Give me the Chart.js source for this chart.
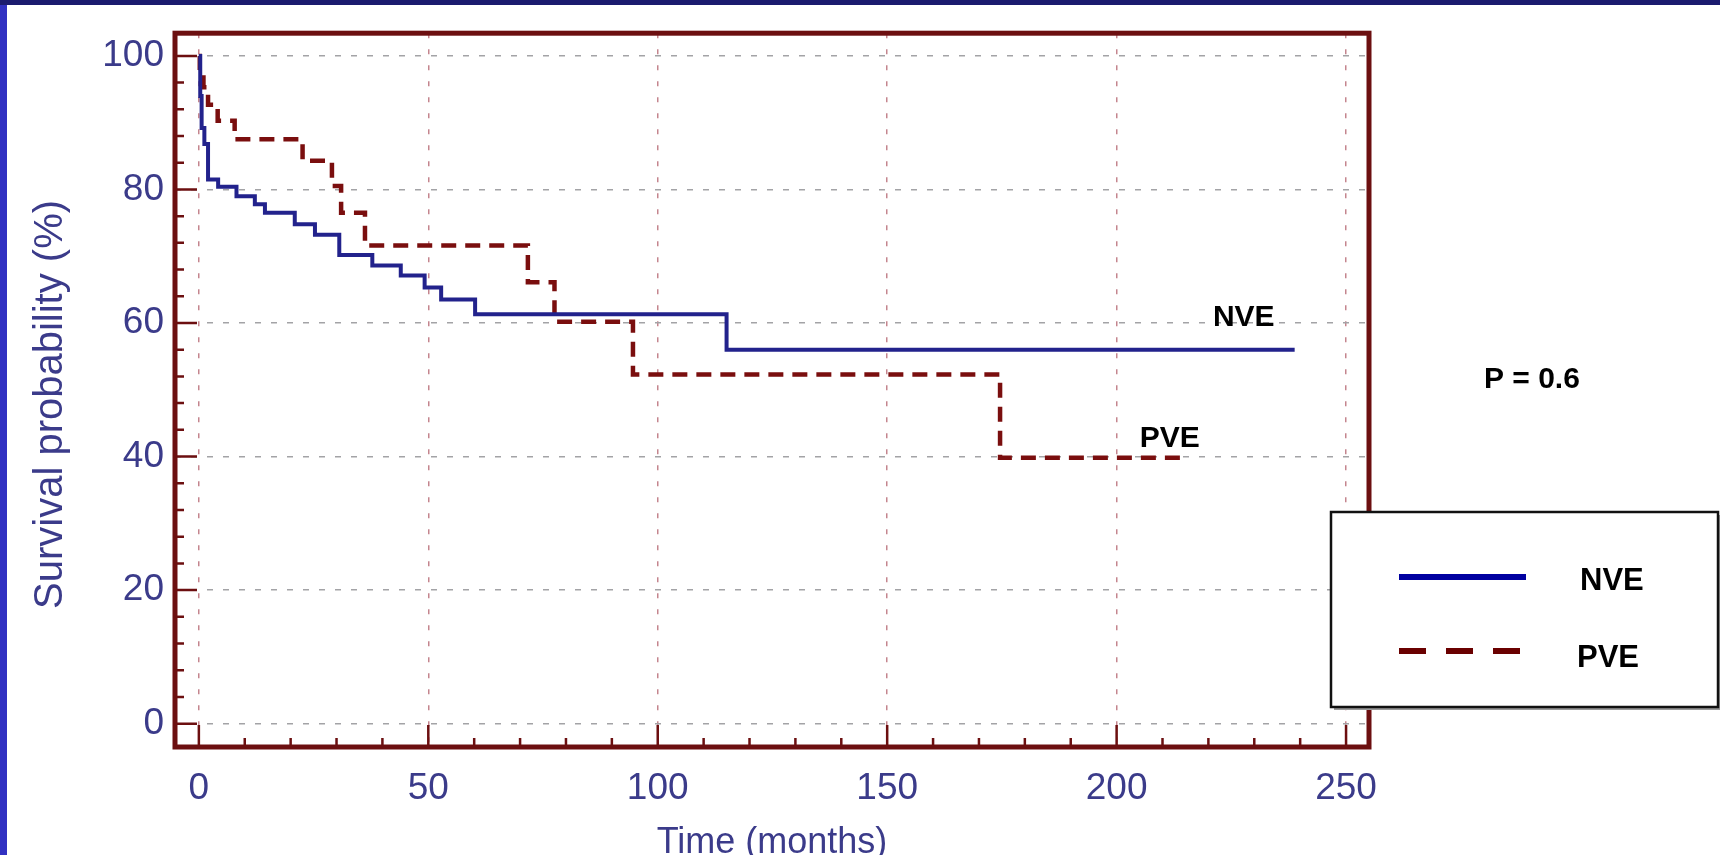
<!DOCTYPE html>
<html>
<head>
<meta charset="utf-8">
<script src="https://cdn.jsdelivr.net/npm/chart.js@4.4.1/dist/chart.umd.min.js"></script>
<style>
  html, body { margin: 0; padding: 0; background: #fff; }
  canvas { display: block; }
</style>
</head>
<body>
<canvas id="kmChart" width="1720" height="855"></canvas>
<script>
// Kaplan-Meier survival (time in months, survival in %)
const nveTimes = [0, 0.3, 0.6, 1.2, 2.0, 4.2, 8.2, 12.2, 14.4, 20.9, 25.3, 30.6, 37.8, 44.0, 49.2, 52.8, 60.2, 115.0, 238.8];
const nveSurv  = [100, 94.0, 89.2, 86.8, 81.5, 80.4, 79.0, 77.8, 76.5, 74.8, 73.2, 70.2, 68.6, 67.1, 65.3, 63.5, 61.3, 56.0, 56.0];
const pveTimes = [0, 0.2, 1.0, 2.0, 4.1, 7.8, 22.6, 29.0, 31.0, 36.2, 71.7, 77.5, 94.6, 174.6, 215.5];
const pveSurv  = [100, 97.5, 95.3, 92.7, 90.3, 87.5, 84.3, 80.5, 76.5, 71.6, 66.1, 60.2, 52.3, 39.8, 39.8];
const xTicks = [0, 50, 100, 150, 200, 250];
const yTicks = [0, 20, 40, 60, 80, 100];
const seriesNames = ['NVE', 'PVE'];
const pText = 'P = 0.6';

const frameColor = '#6c0f10';
const tickColor = '#3b3b8a';
const font = '"Liberation Sans", Arial, sans-serif';

const toPoints = (ts, vs) => ts.map((t, i) => ({ x: t, y: vs[i] }));

const kmDecor = {
  id: 'kmDecor',
  beforeDraw(chart) {
    const c = chart.ctx;
    c.save();
    c.fillStyle = '#ffffff';
    c.fillRect(0, 0, chart.width, chart.height);
    c.fillStyle = '#1b1b6f';
    c.fillRect(0, 0, chart.width, 5);
    c.fillStyle = '#3131c2';
    c.fillRect(0, 5, 7, chart.height - 5);
    c.restore();
  },
  afterDatasetsDraw(chart) {
    const { ctx: c, chartArea: a, scales: { x, y } } = chart;
    c.save();
    // inward ticks
    c.strokeStyle = frameColor;
    c.lineWidth = 2.5;
    c.beginPath();
    for (let v = 0; v <= 250; v += 10) {
      const px = x.getPixelForValue(v);
      const len = v % 50 === 0 ? 22 : 9;
      c.moveTo(px, a.bottom);
      c.lineTo(px, a.bottom - len);
    }
    for (let v = 0; v <= 100; v += 4) {
      const py = y.getPixelForValue(v);
      const len = v % 20 === 0 ? 22 : 9;
      c.moveTo(a.left, py);
      c.lineTo(a.left + len, py);
    }
    c.stroke();
    // frame
    c.lineWidth = 5;
    c.strokeRect(a.left, a.top, a.width, a.height);

    // curve labels and p value
    c.fillStyle = '#000';
    c.font = 'bold 30px ' + font;
    c.textAlign = 'center';
    c.textBaseline = 'middle';
    c.fillText(seriesNames[0], x.getPixelForValue(227.7), y.getPixelForValue(60.8));
    c.fillText(seriesNames[1], x.getPixelForValue(211.6), y.getPixelForValue(42.7));
    c.fillText(pText, x.getPixelForValue(290.5), y.getPixelForValue(51.5));

    // y axis title, set a little below the plot centre as in the picture
    c.fillStyle = tickColor;
    c.font = '40px ' + font;
    c.translate(51, y.getPixelForValue(47.8));
    c.rotate(-Math.PI / 2);
    c.fillText('Survival probability (%)', 0, 0);
    c.restore();
  },
  afterDraw(chart) {
    const c = chart.ctx;
    const ds = chart.data.datasets;
    c.save();
    // legend box
    c.fillStyle = '#9a9a9a';
    c.fillRect(1334, 515, 387, 195);
    c.fillStyle = '#fff';
    c.fillRect(1331, 512, 387, 195);
    c.strokeStyle = '#111';
    c.lineWidth = 2.5;
    c.strokeRect(1331, 512, 387, 195);

    c.lineWidth = 6;
    c.strokeStyle = '#0000a0';
    c.beginPath();
    c.moveTo(1399, 577);
    c.lineTo(1526, 577);
    c.stroke();

    c.strokeStyle = '#6a0000';
    c.setLineDash([27, 20]);
    c.beginPath();
    c.moveTo(1399, 651);
    c.lineTo(1520, 651);
    c.stroke();
    c.setLineDash([]);

    c.fillStyle = '#000';
    c.font = 'bold 31px ' + font;
    c.textAlign = 'left';
    c.textBaseline = 'middle';
    c.fillText(ds[0].label, 1580, 581);
    c.fillText(ds[1].label, 1577, 658);
    c.restore();
  }
};

const ctx = document.getElementById('kmChart').getContext('2d');

const kmChart = new Chart(ctx, {
  type: 'line',
  data: {
    datasets: [{
      label: seriesNames[0],
      data: toPoints(nveTimes, nveSurv),
      borderColor: '#22228c',
      borderWidth: 4,
      stepped: true,
      pointRadius: 0,
      fill: false
    }, {
      label: seriesNames[1],
      data: toPoints(pveTimes, pveSurv),
      borderColor: '#7a0e0e',
      borderWidth: 4.5,
      borderDash: [15, 9],
      stepped: true,
      pointRadius: 0,
      fill: false
    }]
  },
  options: {
    responsive: false,
    animation: false,
    devicePixelRatio: 1,
    layout: {
      padding: { left: 0, top: 30, right: 351, bottom: 0 }
    },
    scales: {
      x: {
        type: 'linear',
        min: -5.2,
        max: 255,
        afterBuildTicks: s => { s.ticks = xTicks.map(v => ({ value: v })); },
        afterFit: s => { s.height = 108; },
        grid: {
          color: 'rgba(190, 120, 130, 0.9)',
          lineWidth: 1.5,
          drawTicks: false
        },
        border: { display: false, dash: [5, 11] },
        ticks: {
          color: tickColor,
          padding: 20,
          maxRotation: 0,
          font: { family: font, size: 37 }
        },
        title: {
          display: true,
          text: 'Time (months)',
          color: tickColor,
          padding: { top: 0, bottom: -10 },
          font: { family: font, size: 36 }
        }
      },
      y: {
        min: -3.5,
        max: 103.4,
        afterBuildTicks: s => { s.ticks = yTicks.map(v => ({ value: v })); },
        afterFit: s => { s.width = 175; },
        grid: {
          color: '#a3a3a6',
          lineWidth: 1.5,
          drawTicks: false
        },
        border: { display: false, dash: [6, 10] },
        ticks: {
          color: tickColor,
          padding: 11,
          font: { family: font, size: 37 }
        },
        title: { display: false }
      }
    },
    plugins: {
      legend: { display: false },
      tooltip: { enabled: false }
    }
  },
  plugins: [kmDecor]
});
</script>
</body>
</html>
